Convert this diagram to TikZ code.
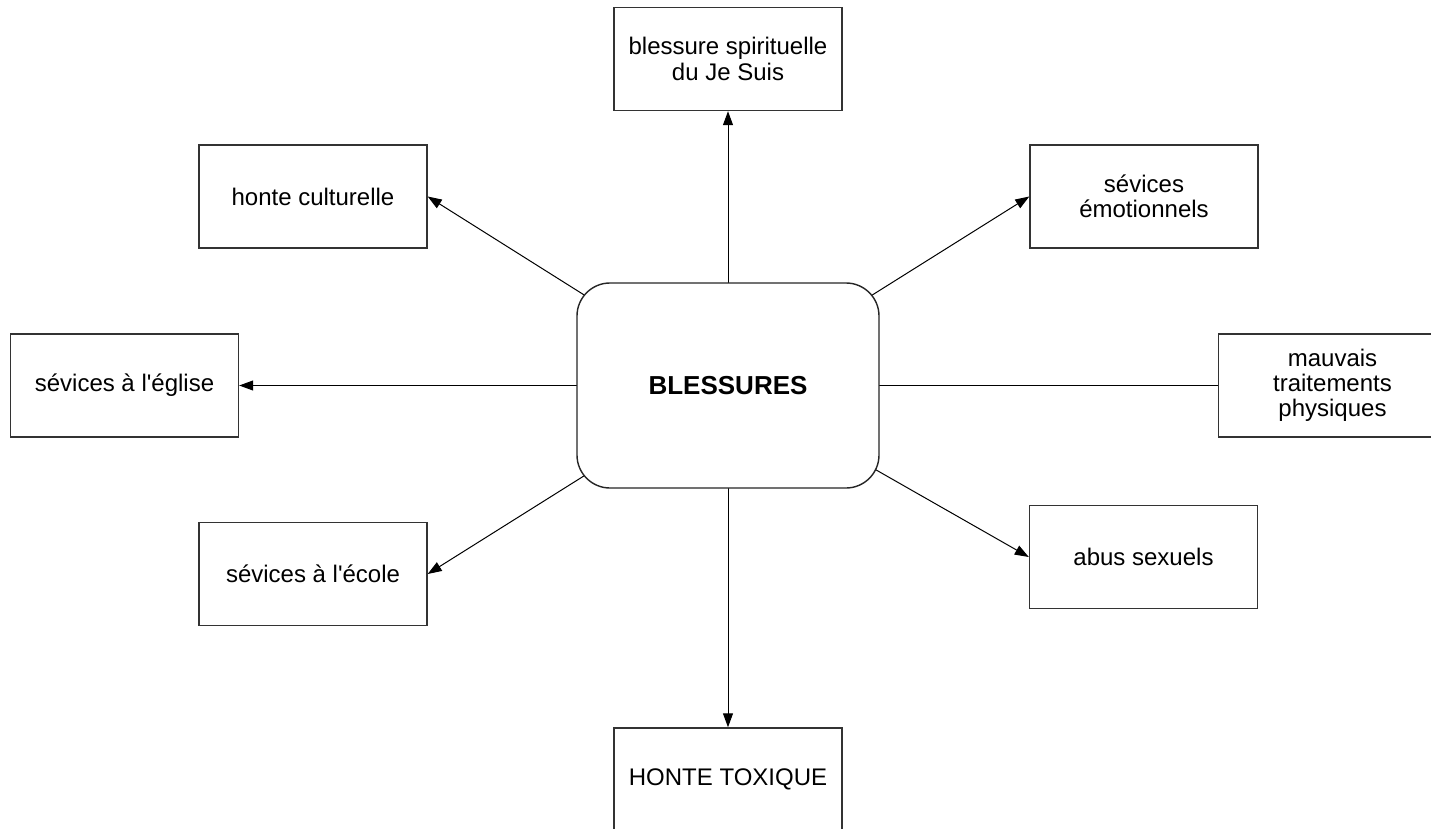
\documentclass[tikz,border=0pt]{standalone}
\usepackage{fontspec}
\setmainfont{Liberation Sans}[Ligatures=TeXOff]
\usetikzlibrary{arrows.meta,backgrounds}

\tikzset{
  leaf/.style={draw=black!80, line width=0.7pt, fill=white, inner sep=0pt,
    minimum width=114pt, minimum height=51.5pt, align=center,
    font=\fontsize{12}{12.6}\selectfont},
  hub/.style={draw=black!85, line width=0.7pt, fill=white, inner sep=0pt,
    rounded corners=16.5pt, minimum width=151pt, minimum height=102.5pt,
    font=\fontsize{13}{15}\selectfont\bfseries},
  link/.style={draw=black, line width=0.5pt},
  arrowlink/.style={link, -{Triangle[length=7pt,width=5pt]}}
}

\begin{document}
\begin{tikzpicture}[x=0.5pt, y=-0.5pt]
  \useasboundingbox (0,0) rectangle (1431,829);
  \clip (0,0) rectangle (1431,829);

  % central box
  \node[hub] (c) at (728,385.5) {BLESSURES};

  % surrounding boxes
  \node[leaf] (top)   at (728,59)      {blessure spirituelle\\du Je Suis};
  \node[leaf] (hcult) at (313,196.5)   {honte culturelle};
  \node[leaf] (emo)   at (1144,196.5)  {sévices\\émotionnels};
  \node[leaf] (egl)   at (124.5,385.5) {sévices à l'église};
  \node[leaf] (phys)  at (1332.5,385.5){mauvais\\traitements\\physiques};
  \node[leaf] (eco)   at (313,574)     {sévices à l'école};
  \node[leaf] (abus)  at (1143.5,557)  {abus sexuels};
  \node[leaf] (tox)   at (728,779.5)   {HONTE TOXIQUE};

  % connectors, drawn from the hub centre and hidden inside the hub
  \begin{pgfonlayer}{background}
    \draw[arrowlink] (c.center) -- (top.south);
    \draw[arrowlink] (c.center) -- (hcult.east);
    \draw[arrowlink] (c.center) -- (emo.west);
    \draw[arrowlink] (c.center) -- (egl.east);
    \draw[link]      (c.center) -- (phys.west);
    \draw[arrowlink] (c.center) -- (eco.east);
    \draw[arrowlink] (c.center) -- (abus.west);
    \draw[arrowlink] (c.center) -- (tox.north);
  \end{pgfonlayer}
\end{tikzpicture}
\end{document}
